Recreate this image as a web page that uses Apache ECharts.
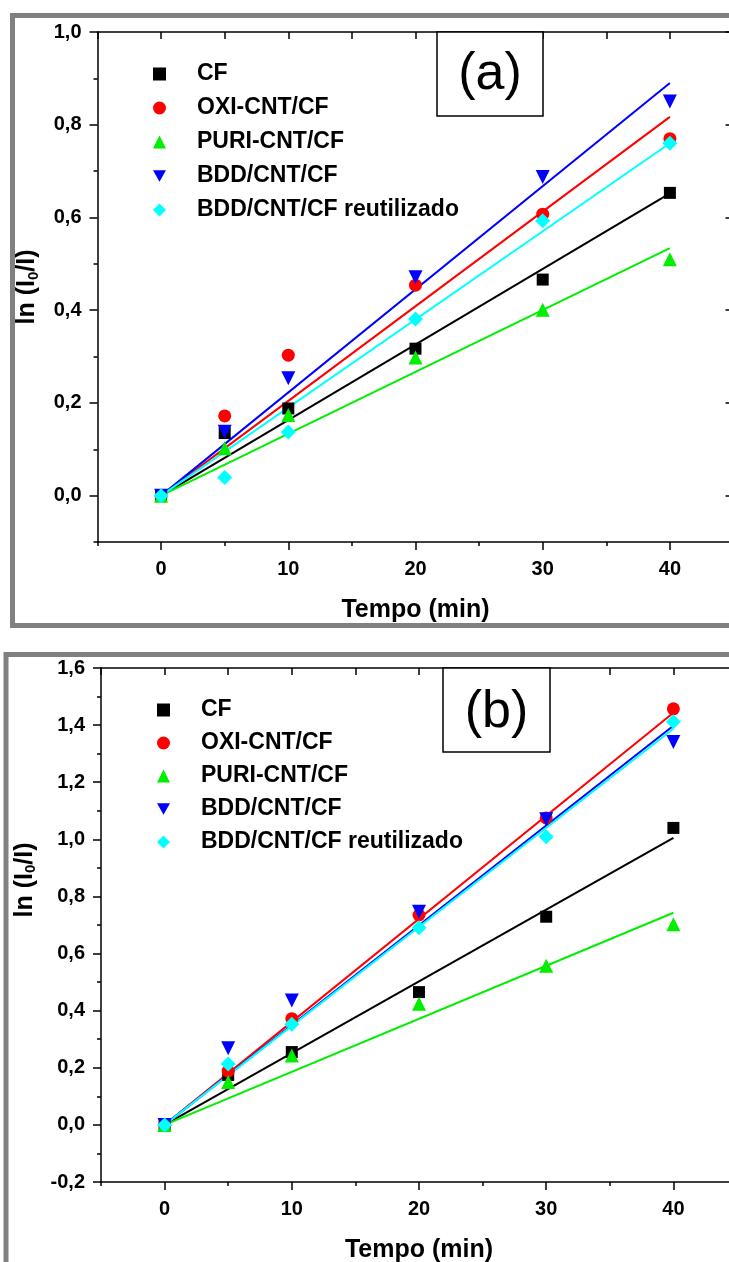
<!DOCTYPE html>
<html><head><meta charset="utf-8">
<script src="https://cdn.jsdelivr.net/npm/echarts@6/dist/echarts.min.js"></script>
<style>html,body{margin:0;padding:0;background:#fff}#c{width:729px;height:1262px}</style>
</head><body><div id="c"></div>
<script>
// ---------- data ----------
const tempo = [0, 5, 10, 20, 30, 40];
const seriesNames = ['CF', 'OXI-CNT/CF', 'PURI-CNT/CF', 'BDD/CNT/CF', 'BDD/CNT/CF reutilizado'];
// panel (a)
const cfA   = [0, 0.135, 0.188, 0.317, 0.466, 0.653];
const oxiA  = [0, 0.172, 0.303, 0.454, 0.607, 0.770];
const puriA = [0, 0.102, 0.174, 0.298, 0.401, 0.510];
const bddA  = [0, 0.138, 0.253, 0.471, 0.687, 0.850];
const reuA  = [0, 0.039, 0.137, 0.381, 0.593, 0.760];
// panel (b)
const cfB   = [0, 0.175, 0.255, 0.465, 0.729, 1.040];
const oxiB  = [0, 0.188, 0.372, 0.735, 1.075, 1.457];
const puriB = [0, 0.150, 0.243, 0.424, 0.557, 0.703];
const bddB  = [0, 0.268, 0.436, 0.746, 1.070, 1.341];
const reuB  = [0, 0.213, 0.352, 0.690, 1.009, 1.412];
// linear fits (through origin): value at t=0 and t=40
const fitT = [0, 40];
const fitStartA = [0, 0, 0, 0, 0];
const fitEndA   = [0.652, 0.817, 0.534, 0.890, 0.760];
const fitStartB = [0, 0, 0, 0, 0];
const fitEndB   = [1.005, 1.443, 0.743, 1.398, 1.387];
// ticks
const xTicks  = [0, 10, 20, 30, 40];
const yTicksA = [0, 0.2, 0.4, 0.6, 0.8, 1.0];
const yTicksB = [-0.2, 0, 0.2, 0.4, 0.6, 0.8, 1.0, 1.2, 1.4, 1.6];
const xRange  = [-5, 45];
const yRangeA = [-0.1, 1.0];
const yRangeB = [-0.2, 1.6];

// ---------- styling ----------
const FONT = '"Liberation Sans", Arial, sans-serif';
const colors  = ['#000000', '#ff0000', '#00ee00', '#0000ff', '#00ffff'];
const symbols = ['rect', 'circle', 'triangle', 'triangle', 'diamond'];
const legendIcons = ['rect', 'circle', 'triangle', 'path://M0,0 L20,0 L10,18 Z', 'diamond'];
const symRot  = [0, 0, 0, 180, 0];
const symSize = [12, 13, 14, 14, 15];
const AX = {color: '#000', width: 1.5};

const gridBase = {outerBoundsMode: 'none', containLabel: false};
const grids = [
  Object.assign({left: 97.5, top: 32, width: 636, height: 510}, gridBase),
  Object.assign({left: 97.5, top: 32, width: 636, height: 510}, gridBase),
  Object.assign({left: 101, top: 668, width: 636, height: 514}, gridBase),
  Object.assign({left: 101, top: 668, width: 636, height: 514}, gridBase)
];

function mainX(grid, pos, inside, len) {
  return {type: 'value', gridIndex: grid, position: pos, min: xRange[0], max: xRange[1], interval: 5,
    axisLine: {show: true, onZero: false, lineStyle: AX},
    axisTick: {show: true, inside: inside, length: len, lineStyle: AX},
    axisLabel: {show: false}, splitLine: {show: false}};
}
function ghostX(grid) {
  return {type: 'value', gridIndex: grid, position: 'bottom', min: xRange[0], max: xRange[1], interval: 5,
    axisLine: {show: false, onZero: false},
    axisTick: {show: true, customValues: xTicks, length: 8, lineStyle: AX},
    axisLabel: {show: true, customValues: xTicks, margin: 17, fontSize: 20, fontWeight: 'bold', fontFamily: FONT, color: '#000'},
    splitLine: {show: false},
    name: 'Tempo (min)', nameLocation: 'middle', nameGap: 56,
    nameTextStyle: {fontSize: 25, fontWeight: 'bold', fontFamily: FONT, color: '#000'}};
}
function mainY(grid, pos, inside, range) {
  return {type: 'value', gridIndex: grid, position: pos, min: range[0], max: range[1], interval: 0.1,
    axisLine: {show: true, onZero: false, lineStyle: AX},
    axisTick: {show: true, inside: inside, length: 4, lineStyle: AX},
    axisLabel: {show: false}, splitLine: {show: false}};
}
function ghostY(grid, pos, inside, range, ticks, withLabel, namePad, nameGap) {
  const o = {type: 'value', gridIndex: grid, position: pos, min: range[0], max: range[1], interval: 0.1,
    axisLine: {show: false, onZero: false},
    axisTick: {show: true, inside: inside, customValues: ticks, length: 8, lineStyle: AX},
    axisLabel: {show: withLabel, customValues: ticks, margin: 16, fontSize: 20, fontWeight: 'bold', fontFamily: FONT, color: '#000',
      formatter: v => v.toFixed(1).replace('.', ',')},
    splitLine: {show: false}};
  if (withLabel) {
    o.name = 'ln (I{s|0}/I)';
    o.nameLocation = 'middle';
    o.nameRotate = 90;
    o.nameGap = nameGap;
    o.nameTextStyle = {fontSize: 25, fontWeight: 'bold', fontFamily: FONT, color: '#000', lineHeight: 30,
      padding: namePad,
      rich: {s: {fontSize: 15, fontWeight: 'bold', fontFamily: FONT, color: '#000', padding: [12, 0, 0, 0]}}};
  }
  return o;
}

const xAxis = [
  mainX(0, 'bottom', false, 4), mainX(0, 'top', true, 7), ghostX(1),
  mainX(2, 'bottom', false, 4), mainX(2, 'top', true, 7), ghostX(3)
];
const yAxis = [
  mainY(0, 'left', false, yRangeA), mainY(0, 'right', true, yRangeA),
  ghostY(1, 'left', false, yRangeA, yTicksA, true, [0, 0, 0, 0], 55), ghostY(1, 'right', true, yRangeA, yTicksA, false),
  mainY(2, 'left', false, yRangeB), mainY(2, 'right', true, yRangeB),
  ghostY(3, 'left', false, yRangeB, yTicksB, true, [0, 0, 0, 90], 59), ghostY(3, 'right', true, yRangeB, yTicksB, false)
];

const panelData = [
  {vals: [cfA, oxiA, puriA, bddA, reuA], fs: fitStartA, fe: fitEndA, xi: 0, yi: 0},
  {vals: [cfB, oxiB, puriB, bddB, reuB], fs: fitStartB, fe: fitEndB, xi: 3, yi: 4}
];
const series = [];
panelData.forEach((p, pi) => {
  seriesNames.forEach((nm, i) => {
    series.push({type: 'line', name: nm + ' ajuste ' + pi, xAxisIndex: p.xi, yAxisIndex: p.yi,
      data: fitT.map((t, k) => [t, k === 0 ? p.fs[i] : p.fe[i]]),
      showSymbol: false, symbol: 'none', lineStyle: {color: colors[i], width: 2}, z: 2, silent: true});
  });
  seriesNames.forEach((nm, i) => {
    series.push({type: 'scatter', name: nm, xAxisIndex: p.xi, yAxisIndex: p.yi,
      data: tempo.map((t, k) => [t, p.vals[i][k]]),
      symbol: symbols[i], symbolRotate: symRot[i], symbolSize: symSize[i],
      itemStyle: {color: colors[i], opacity: 1}, z: 3});
  });
});

const legendBase = {orient: 'vertical', itemWidth: 13, itemHeight: 13, itemGap: 10, selectedMode: false,
  data: seriesNames.map((n, i) => ({name: n, icon: legendIcons[i]})),
  textStyle: {fontSize: 23, fontWeight: 'bold', fontFamily: FONT, color: '#000', lineHeight: 24, padding: [0, 0, 0, 26]}};

const option = {
  animation: false,
  backgroundColor: '#fff',
  grid: grids,
  xAxis: xAxis,
  yAxis: yAxis,
  legend: [
    Object.assign({}, legendBase, {left: 148, top: 57}),
    Object.assign({}, legendBase, {left: 152, top: 693, itemGap: 9})
  ],
  series: series,
  graphic: [
    {type: 'rect', shape: {x: 12.5, y: 15.5, width: 800, height: 610}, style: {fill: 'none', stroke: '#808080', lineWidth: 5}, z: 10},
    {type: 'rect', shape: {x: 6, y: 654.5, width: 800, height: 700}, style: {fill: 'none', stroke: '#808080', lineWidth: 5}, z: 10},
    {type: 'rect', shape: {x: 437, y: 32, width: 106, height: 84}, style: {fill: '#fff', stroke: '#000', lineWidth: 1.5}, z: 10},
    {type: 'text', x: 490, y: 75, style: {text: '(a)', fontSize: 52, fontFamily: FONT, fill: '#000', align: 'center', verticalAlign: 'middle'}, z: 11},
    {type: 'rect', shape: {x: 443, y: 668, width: 107, height: 84}, style: {fill: '#fff', stroke: '#000', lineWidth: 1.5}, z: 10},
    {type: 'text', x: 496.5, y: 713, style: {text: '(b)', fontSize: 52, fontFamily: FONT, fill: '#000', align: 'center', verticalAlign: 'middle'}, z: 11}
  ]
};
const chart = echarts.init(document.getElementById('c'), null, {renderer: 'canvas'});
chart.setOption(option);
</script>
</body></html>
